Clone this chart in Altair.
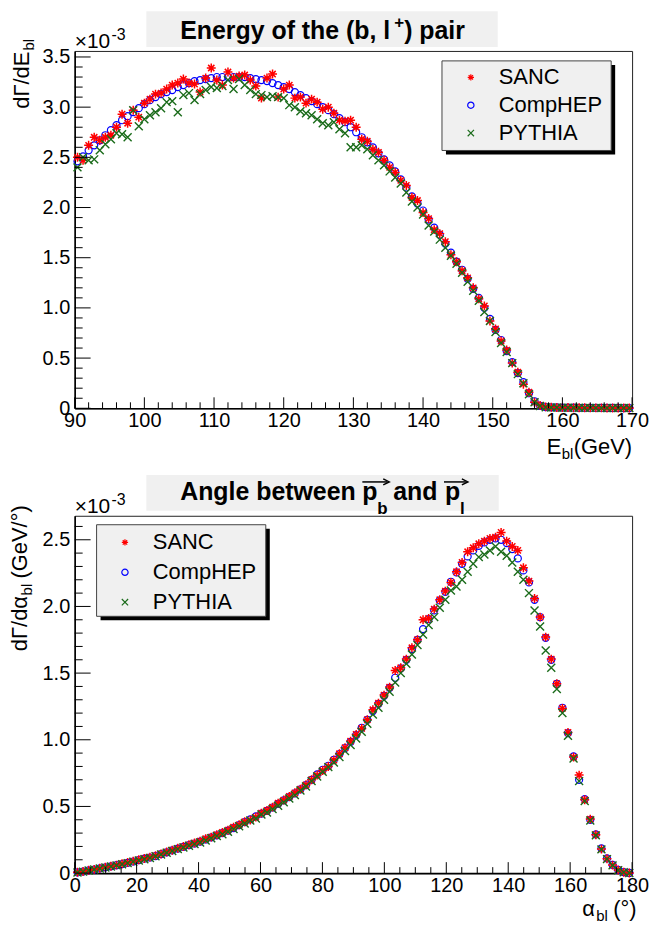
import altair as alt
import pandas as pd

FONT = "Liberation Sans"

# ---------------- data ----------------
E_LO, E_BIN = 90.0, 0.8      # E_bl histogram: 100 bins of 0.8 GeV
A_LO, A_BIN = 0.0, 1.8       # alpha_bl histogram: 100 bins of 1.8 deg

SERIES = ["SANC", "CompHEP", "PYTHIA"]
COLORS = ["#ff0000", "#0000ff", "#1a6b1a"]

# dGamma/dE_bl  (x 1e-3)
sanc_E = [
    2.50, 2.47, 2.62, 2.70, 2.67, 2.70, 2.72, 2.80, 2.93, 2.84,
    2.97, 2.90, 3.04, 3.08, 3.13, 3.14, 3.18, 3.22, 3.24, 3.28,
    3.24, 3.23, 3.15, 3.29, 3.39, 3.27, 3.22, 3.35, 3.29, 3.31,
    3.32, 3.27, 3.21, 3.09, 3.29, 3.33, 3.10, 3.18, 3.22, 3.09,
    3.10, 3.04, 3.08, 3.05, 2.98, 3.00, 2.94, 2.87, 2.86, 2.87,
    2.80, 2.68, 2.66, 2.58, 2.55, 2.47, 2.40, 2.35, 2.27, 2.22,
    2.10, 2.07, 1.95, 1.89, 1.78, 1.74, 1.66, 1.53, 1.46, 1.37,
    1.30, 1.20, 1.09, 1.02, 0.87, 0.79, 0.67, 0.58, 0.45, 0.36,
    0.24, 0.16, 0.06, 0.028, 0.014, 0.010, 0.008, 0.008, 0.007, 0.006,
    0.006, 0.005, 0.005, 0.004, 0.004, 0.003, 0.003, 0.002, 0.002, 0.002,
]
comphep_E = [
    2.46, 2.51, 2.57, 2.62, 2.67, 2.72, 2.77, 2.82, 2.87, 2.91,
    2.95, 2.99, 3.03, 3.07, 3.10, 3.13, 3.15, 3.17, 3.20, 3.22,
    3.24, 3.26, 3.27, 3.28, 3.29, 3.30, 3.30, 3.30, 3.30, 3.30,
    3.30, 3.29, 3.28, 3.27, 3.26, 3.24, 3.22, 3.20, 3.18, 3.15,
    3.12, 3.09, 3.06, 3.03, 3.00, 2.97, 2.93, 2.89, 2.85, 2.80,
    2.75, 2.70, 2.65, 2.60, 2.54, 2.48, 2.42, 2.36, 2.28, 2.20,
    2.11, 2.04, 1.97, 1.88, 1.80, 1.73, 1.64, 1.55, 1.46, 1.38,
    1.29, 1.19, 1.10, 1.00, 0.89, 0.78, 0.68, 0.57, 0.46, 0.35,
    0.26, 0.15, 0.07, 0.025, 0.012, 0.009, 0.008, 0.007, 0.006, 0.006,
    0.005, 0.005, 0.004, 0.004, 0.004, 0.003, 0.003, 0.003, 0.002, 0.002,
]
pythia_E = [
    2.40, 2.50, 2.47, 2.48, 2.57, 2.63, 2.68, 2.74, 2.73, 2.70,
    2.97, 2.81, 2.88, 2.92, 2.95, 2.99, 3.05, 3.06, 2.95, 3.12,
    3.14, 3.07, 3.13, 3.17, 3.20, 3.19, 3.21, 3.27, 3.18, 3.28,
    3.22, 3.17, 3.13, 3.12, 3.10, 3.11, 3.10, 3.09, 3.02, 3.00,
    2.96, 2.94, 2.92, 2.88, 2.84, 2.82, 2.85, 2.78, 2.74, 2.60,
    2.60, 2.62, 2.58, 2.52, 2.47, 2.42, 2.36, 2.30, 2.24, 2.15,
    2.06, 2.00, 1.93, 1.82, 1.76, 1.68, 1.60, 1.52, 1.44, 1.35,
    1.26, 1.17, 1.07, 0.96, 0.87, 0.76, 0.65, 0.56, 0.45, 0.34,
    0.25, 0.14, 0.06, 0.022, 0.011, 0.008, 0.007, 0.006, 0.006, 0.005,
    0.005, 0.004, 0.004, 0.004, 0.003, 0.003, 0.003, 0.002, 0.002, 0.002,
]

# dGamma/dalpha_bl  (x 1e-3 GeV/deg)
sanc_A = [
    0.006, 0.012, 0.021, 0.028, 0.036, 0.045, 0.052, 0.060, 0.070, 0.079,
    0.090, 0.100, 0.110, 0.120, 0.131, 0.143, 0.158, 0.172, 0.186, 0.199,
    0.212, 0.226, 0.240, 0.258, 0.270, 0.288, 0.305, 0.322, 0.345, 0.362,
    0.385, 0.398, 0.420, 0.450, 0.470, 0.495, 0.525, 0.548, 0.575, 0.602,
    0.630, 0.662, 0.700, 0.735, 0.770, 0.800, 0.848, 0.895, 0.940, 0.990,
    1.040, 1.085, 1.150, 1.225, 1.275, 1.335, 1.395, 1.520, 1.540, 1.605,
    1.690, 1.750, 1.900, 1.910, 1.980, 2.050, 2.115, 2.180, 2.260, 2.330,
    2.410, 2.440, 2.470, 2.490, 2.510, 2.520, 2.555, 2.490, 2.450, 2.420,
    2.290, 2.190, 2.060, 1.920, 1.770, 1.605, 1.420, 1.235, 1.055, 0.870,
    0.735, 0.550, 0.405, 0.288, 0.180, 0.108, 0.060, 0.024, 0.006, 0.001,
]
comphep_A = [
    0.005, 0.012, 0.020, 0.027, 0.035, 0.043, 0.051, 0.059, 0.068, 0.077,
    0.087, 0.098, 0.108, 0.117, 0.128, 0.142, 0.156, 0.170, 0.184, 0.197,
    0.210, 0.222, 0.236, 0.252, 0.268, 0.283, 0.300, 0.318, 0.338, 0.360,
    0.382, 0.403, 0.425, 0.446, 0.466, 0.492, 0.520, 0.545, 0.570, 0.598,
    0.628, 0.660, 0.700, 0.740, 0.775, 0.805, 0.850, 0.893, 0.938, 0.985,
    1.035, 1.090, 1.150, 1.215, 1.270, 1.330, 1.390, 1.465, 1.535, 1.600,
    1.680, 1.750, 1.830, 1.905, 1.970, 2.045, 2.110, 2.185, 2.255, 2.320,
    2.375, 2.420, 2.455, 2.480, 2.500, 2.510, 2.500, 2.475, 2.430, 2.360,
    2.270, 2.180, 2.050, 1.920, 1.765, 1.600, 1.420, 1.240, 1.050, 0.875,
    0.700, 0.555, 0.400, 0.290, 0.185, 0.110, 0.062, 0.025, 0.007, 0.001,
]
pythia_A = [
    0.004, 0.011, 0.019, 0.027, 0.034, 0.042, 0.050, 0.058, 0.066, 0.075,
    0.085, 0.095, 0.104, 0.114, 0.126, 0.140, 0.152, 0.166, 0.180, 0.192,
    0.205, 0.218, 0.230, 0.245, 0.262, 0.278, 0.292, 0.310, 0.330, 0.352,
    0.372, 0.395, 0.410, 0.440, 0.455, 0.480, 0.505, 0.532, 0.560, 0.585,
    0.620, 0.650, 0.690, 0.725, 0.760, 0.795, 0.830, 0.870, 0.915, 0.960,
    1.010, 1.060, 1.120, 1.190, 1.240, 1.300, 1.360, 1.430, 1.500, 1.570,
    1.640, 1.710, 1.790, 1.860, 1.920, 1.990, 2.050, 2.120, 2.150, 2.200,
    2.260, 2.320, 2.370, 2.390, 2.420, 2.450, 2.410, 2.380, 2.330, 2.260,
    2.200, 2.100, 1.970, 1.850, 1.670, 1.540, 1.380, 1.200, 1.030, 0.860,
    0.690, 0.540, 0.395, 0.283, 0.178, 0.105, 0.058, 0.022, 0.006, 0.001,
]

# axis ticks
E_MAJOR = [90, 100, 110, 120, 130, 140, 150, 160, 170]
E_MINOR = [v for v in range(90, 171, 2) if v % 10]
ET_MAJOR = [0, 0.5, 1.0, 1.5, 2.0, 2.5, 3.0, 3.5]
ET_MINOR = [round(k * 0.1, 1) for k in range(0, 36) if k % 5]
A_MAJOR = [0, 20, 40, 60, 80, 100, 120, 140, 160, 180]
A_MINOR = [v for v in range(0, 181, 5) if v % 20]
AT_MAJOR = [0, 0.5, 1.0, 1.5, 2.0, 2.5]
AT_MINOR = [round(k * 0.1, 1) for k in range(0, 27) if k % 5]


def long_df(lo, binw, series_lists):
    rows = []
    for name, vals in series_lists:
        for i, v in enumerate(vals):
            rows.append({"x": round(lo + binw * (i + 0.5), 3), "y": v, "series": name})
    return pd.DataFrame(rows)


df_E = long_df(E_LO, E_BIN, [("SANC", sanc_E), ("CompHEP", comphep_E), ("PYTHIA", pythia_E)])
df_A = long_df(A_LO, A_BIN, [("SANC", sanc_A), ("CompHEP", comphep_A), ("PYTHIA", pythia_A)])

# ---------------- styling ----------------
W, H = 560, 359
STAR = "M-1,0L1,0M0,-1L0,1M-0.7,-0.7L0.7,0.7M-0.7,0.7L0.7,-0.7"
XSYM = "M-1,-1L1,1M-1,1L1,-1"
SHAPES = [STAR, "circle", XSYM]
STYLE = {"SANC": (81, 1.5), "CompHEP": (50, 1.2), "PYTHIA": (64, 1.4)}
DUMMY = pd.DataFrame({"d": [0]})
BOXFILL = "#f0f0f0"
NBSP = "\u00a0"


def txt(s, x, y, size, bold=False, angle=0, align="left"):
    return alt.Chart(DUMMY).mark_text(
        text=s, font=FONT, fontSize=size, fontWeight="bold" if bold else "normal",
        angle=angle, align=align, baseline="alphabetic", color="black",
    ).encode(x=alt.value(x), y=alt.value(y))


def rect(x1, x2, y1, y2, fill, stroke=None, opacity=1):
    kw = {"fill": fill, "opacity": opacity}
    if stroke:
        kw.update(stroke=stroke, strokeWidth=1)
    return alt.Chart(DUMMY).mark_rect(**kw).encode(
        x=alt.value(x1), x2=alt.value(x2), y=alt.value(y1), y2=alt.value(y2))


def arrow(x1, x2, y):
    line = alt.Chart(DUMMY).mark_rule(color="black", strokeWidth=1.5).encode(
        x=alt.value(x1), x2=alt.value(x2), y=alt.value(y), y2=alt.value(y))
    head = alt.Chart(DUMMY).mark_point(shape="M-1,-1L1,0L-1,1", filled=False, size=36,
                                       color="black", strokeWidth=1.5, opacity=1).encode(
        x=alt.value(x2 - 1), y=alt.value(y))
    return [line, head]


def panel(df, xdom, ydom, xmaj, xmin, ymaj, ymin, leg, box, annotations):
    xs = alt.Scale(domain=xdom, nice=False, zero=False)
    ys = alt.Scale(domain=ydom, nice=False, zero=False)
    xaxis = alt.Axis(values=xmaj, ticks=False, grid=False, title=None, labelFont=FONT,
                     labelFontSize=20, labelColor="black", labelPadding=2, domainColor="black",
                     domainWidth=1.6, labelFlush=False, labelOverlap=False, format="d")
    yaxis = alt.Axis(values=ymaj, ticks=False, grid=False, title=None, labelFont=FONT,
                     labelFontSize=20, labelColor="black", labelPadding=5, domainColor="black",
                     domainWidth=1.6, labelOverlap=False,
                     labelExpr="datum.value == 0 ? '0' : format(datum.value, '.1f')")
    legend = alt.Legend(orient="none", legendX=leg[0], legendY=leg[1], title=None,
                        labelFont=FONT, labelFontSize=22, labelColor="black",
                        symbolSize=40, symbolStrokeWidth=1.2, labelOffset=leg[2],
                        rowPadding=leg[3], padding=0, symbolOffset=0)
    layers = []
    for name in ["CompHEP", "SANC", "PYTHIA"]:
        size, sw = STYLE[name]
        layers.append(
            alt.Chart(df).transform_filter(alt.datum.series == name)
            .mark_point(filled=False, size=size, strokeWidth=sw, opacity=1)
            .encode(
                x=alt.X("x:Q", scale=xs, axis=xaxis),
                y=alt.Y("y:Q", scale=ys, axis=yaxis),
                color=alt.Color("series:N", scale=alt.Scale(domain=SERIES, range=COLORS), legend=legend),
                shape=alt.Shape("series:N", scale=alt.Scale(domain=SERIES, range=SHAPES), legend=legend),
            )
        )

    def yt(vals, length):
        return alt.Chart(pd.DataFrame({"v": vals})).mark_rule(color="black", strokeWidth=1).encode(
            y=alt.Y("v:Q", scale=ys, axis=yaxis), x=alt.value(0), x2=alt.value(length))

    def xt(vals, length):
        return alt.Chart(pd.DataFrame({"v": vals})).mark_rule(color="black", strokeWidth=1).encode(
            x=alt.X("v:Q", scale=xs, axis=xaxis), y=alt.value(H), y2=alt.value(H - length))

    layers += [yt(ymaj, 16), yt(ymin, 8), xt(xmaj, 11), xt(xmin, 6)]
    bx1, bx2, by1, by2 = box
    layers += [rect(bx1 + 4, bx2 + 4, by1 + 4, by2 + 4, "black"),
               rect(bx1, bx2, by1, by2, BOXFILL, stroke="#444")]
    layers += annotations
    layers.append(rect(-65, -64, 0, 1, "white", opacity=0))
    return alt.layer(*layers).properties(width=W, height=H)


top_ann = [
    rect(72, 425, -40, -4, BOXFILL),
    txt("Energy of the (b, l", 106, -12, 25, bold=True),
    txt("+", 321, -23, 17, bold=True),
    txt(") pair", 331, -12, 25, bold=True),
    txt("\u00d710", 0, -3, 21),
    txt("-3", 37, -11, 16),
    txt("d\u0393/dE", -46, 58, 22, angle=270),
    txt("bl", -41, -0.5, 15, angle=270),
    txt("(GeV)", W, H + 46, 22, align="right"),
    txt("bl", W - 59, H + 51, 15, align="right"),
    txt("E", W - 71, H + 46, 22, align="right"),
]

bot_ann = [
    rect(72, 426, -41, -5, BOXFILL),
    txt("Angle between ", 106, -16, 25, bold=True),
    txt("p", 289, -16, 25, bold=True),
    txt("b", 304, -2, 17, bold=True),
    txt("and", 320, -16, 25, bold=True),
    txt("p", 372, -16, 25, bold=True),
    txt("l", 387, -2, 17, bold=True),
    *arrow(289, 314, -34),
    *arrow(371, 393, -34),
    txt("\u00d710", 0, -3, 21),
    txt("-3", 37, -11, 16),
    txt("d\u0393/d\u03b1", -48, 136, 22, angle=270),
    txt("bl", -43, 80, 15, angle=270),
    txt("(GeV/\u00b0)", -48, 63, 22, angle=270),
    txt("\u03b1", W - 50, H + 43, 22),
    txt("bl", W - 36, H + 48, 15),
    txt("(\u00b0)", W - 19, H + 43, 22),
]

top = panel(df_E, [90, 170], [0, 3.56], E_MAJOR, E_MINOR, ET_MAJOR, ET_MINOR,
            (W - 173, 15.5, 17, 6), (W - 191, W - 21, 10, 100), top_ann)
bottom = panel(df_A, [0, 180], [0, 2.68], A_MAJOR, A_MINOR, AT_MAJOR, AT_MINOR,
               (39.5, 15.8, 17, 8), (22, 192, 9, 101), bot_ann)

chart = (
    alt.vconcat(top, bottom, spacing=108, bounds="flush")
    .resolve_scale(x="independent", y="independent", color="independent", shape="independent")
    .resolve_legend(color="independent", shape="independent")
    .properties(padding=0, background="white")
    .configure_view(stroke="#222", strokeWidth=1)
)

chart.save("out.html", embed_options={"renderer": "svg", "actions": False})
